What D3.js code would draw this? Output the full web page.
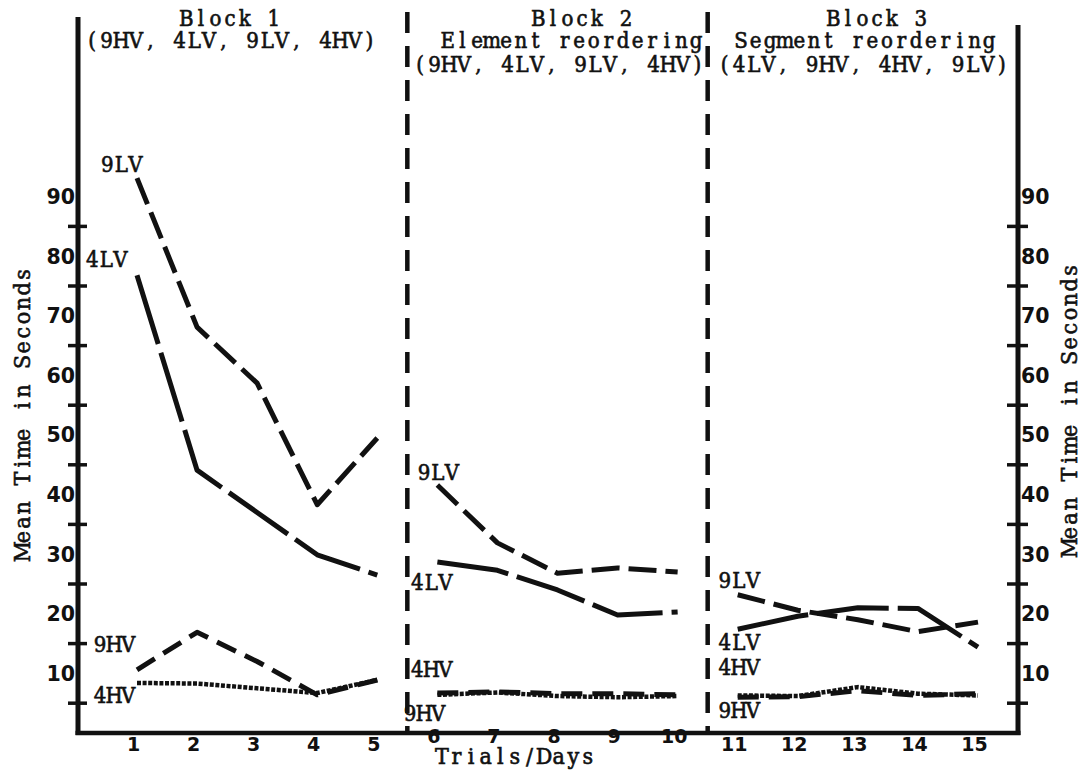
<!DOCTYPE html>
<html>
<head>
<meta charset="utf-8">
<script src="https://cdn.jsdelivr.net/npm/d3@7"></script>
<style>
  html, body { margin: 0; padding: 0; background: #fff; }
  svg { display: block; }
  .type { font-family: "DejaVu Serif Condensed", "DejaVu Serif", serif; font-stretch: condensed; fill: #111; stroke: #111; stroke-width: 0.6px; }
  .num { font-family: "DejaVu Sans", sans-serif; font-weight: bold; fill: #111; }
</style>
</head>
<body>
<svg id="chart" width="1081" height="781"></svg>
<script>
// Trials (days) and mean completion times in seconds, three blocks of five trials
const trials = [1, 2, 3, 4, 5, 6, 7, 8, 9, 10, 11, 12, 13, 14, 15];
const xTickLabels = ["1", "2", "3", "4", "5", "6", "7", "8", "9", "10", "11", "12", "13", "14", "15"];
const yTickLabels = [10, 20, 30, 40, 50, 60, 70, 80, 90];
const yMinorTicks = [5, 15, 25, 35, 45, 55, 65, 75, 85];

const values9LV = [93.1, 68.1, 58.7, 38.3, 49.5, 41.6, 31.9, 26.8, 27.7, 27.0, 23.2, 20.6, 19.0, 17.0, 18.6];
const values4LV = [76.8, 44.1, 37.0, 29.9, 26.5, 28.7, 27.3, 24.0, 19.8, 20.3, 17.4, 19.6, 21.0, 20.9, 14.4];
const values9HV = [10.6, 16.9, 12.0, 6.4, 8.9, 6.7, 6.9, 6.6, 6.6, 6.4, 6.0, 6.1, 7.1, 6.3, 6.6];
const values4HV = [8.4, 8.3, 7.5, 6.7, 8.9, 6.4, 6.8, 6.2, 6.0, 6.2, 6.3, 6.2, 7.7, 6.6, 6.3];

// Block boundaries (first and last trial of each block)
const blocks = [[1, 5], [6, 10], [11, 15]];

// Block headers: lines of text, centred on a trial position
const headerLines = [
  { text: "Block 1", trial: 2.55, row: 0 },
  { text: "(9HV, 4LV, 9LV, 4HV)", trial: 2.56, row: 1 },
  { text: "Block 2", trial: 8.41, row: 0 },
  { text: "Element reordering", trial: 8.24, row: 1 },
  { text: "(9HV, 4LV, 9LV, 4HV)", trial: 8.02, row: 2 },
  { text: "Block 3", trial: 13.32, row: 0 },
  { text: "Segment reordering", trial: 13.12, row: 1 },
  { text: "(4LV, 9HV, 4HV, 9LV)", trial: 13.09, row: 2 }
];

// Series name tags, placed in data units (trial, seconds) at their left edge
const seriesTags = [
  { text: "9LV", trial: 0.39, value: 94.1 },
  { text: "4LV", trial: 0.14, value: 78.2 },
  { text: "9HV", trial: 0.27, value: 13.6 },
  { text: "4HV", trial: 0.27, value: 5.0 },
  { text: "9LV", trial: 5.66, value: 42.4 },
  { text: "4LV", trial: 5.55, value: 24.0 },
  { text: "4HV", trial: 5.55, value: 9.4 },
  { text: "9HV", trial: 5.43, value: 2.0 },
  { text: "9LV", trial: 10.67, value: 24.3 },
  { text: "4LV", trial: 10.67, value: 13.9 },
  { text: "4HV", trial: 10.67, value: 9.7 },
  { text: "9HV", trial: 10.67, value: 2.5 }
];

const series = [
  { name: "9LV", values: values9LV, dash: "28,9", width: 5 },
  { name: "4LV", values: values4LV, dash: "72,9", width: 5 },
  { name: "9HV", values: values9HV, dash: "21,10", width: 5 },
  { name: "4HV", values: values4HV, dash: "4,1.6", width: 4.5 }
];

const svg = d3.select("#chart");
const ink = "#111";
const pitch = 14.6;   // typewriter character pitch

const x = d3.scaleLinear().domain([1, 15]).range([137, 978]);
const y = d3.scaleLinear().domain([0, 90]).range([733, 196.6]);

const axisLeftX = 78, axisRightX = 1018, axisBottomY = y(0);

// Typewriter text: every glyph centred in its own fixed-width cell.
// anchor "middle" centres the whole string on x0, "start" puts its left edge there.
function typeText(parent, str, x0, y0, size, anchor, step) {
  const p = step || pitch;
  const left = anchor === "middle" ? x0 - (str.length * p) / 2 : x0;
  const xs = Array.from(str, (c, i) => (left + (i + 0.5) * p).toFixed(2));
  return parent.append("text")
    .attr("class", "type").attr("font-size", size)
    .attr("text-anchor", "middle")
    .attr("x", xs.join(" ")).attr("y", y0)
    .text(str);
}

// Frame: left, right and bottom axes
svg.append("line").attr("x1", axisLeftX).attr("x2", axisLeftX).attr("y1", 17).attr("y2", axisBottomY + 2)
  .attr("stroke", ink).attr("stroke-width", 5);
svg.append("line").attr("x1", axisRightX).attr("x2", axisRightX).attr("y1", 25).attr("y2", axisBottomY + 2)
  .attr("stroke", ink).attr("stroke-width", 5);
svg.append("line").attr("x1", axisLeftX - 2.5).attr("x2", axisRightX + 2.5).attr("y1", axisBottomY).attr("y2", axisBottomY)
  .attr("stroke", ink).attr("stroke-width", 4.5);

// Cross ticks at the odd multiples of five on both vertical axes
[[axisLeftX, -10, 9], [axisRightX, -11, 10]].forEach(([ax, a, b]) => {
  svg.append("g").selectAll("line").data(yMinorTicks).join("line")
    .attr("x1", ax + a).attr("x2", ax + b)
    .attr("y1", d => y(d)).attr("y2", d => y(d))
    .attr("stroke", ink).attr("stroke-width", 3.5);
});

// Tick labels on the vertical axes
const leftAxis = d3.axisLeft(y).tickValues(yTickLabels).tickSize(0).tickPadding(0);
const gl = svg.append("g").attr("transform", `translate(${axisLeftX - 3},0)`).call(leftAxis);
const rightAxis = d3.axisRight(y).tickValues(yTickLabels).tickSize(0).tickPadding(0);
const gr = svg.append("g").attr("transform", `translate(${axisRightX + 3},0)`).call(rightAxis);
[gl, gr].forEach(g => {
  g.select(".domain").remove();
  g.attr("font-family", null).attr("font-size", null);
  g.selectAll("text").attr("class", "num").attr("font-size", 20.5).attr("dy", "0.34em").attr("fill", ink);
});

// Trial labels along the bottom; the middle block was typed a little higher
const bottomAxis = d3.axisBottom(x).tickValues(trials).tickFormat((d, i) => xTickLabels[i]).tickSize(0).tickPadding(0);
const gb = svg.append("g").attr("transform", `translate(-4,${axisBottomY})`).call(bottomAxis);
gb.select(".domain").remove();
gb.attr("font-family", null).attr("font-size", null);
gb.selectAll("text").attr("class", "num").attr("font-size", 19).attr("fill", ink)
  .attr("y", d => (d >= 6 && d <= 10) ? 10 : 18).attr("dy", 0);

// Dashed block separators
[5.5, 10.5].forEach(t => {
  svg.append("line").attr("x1", x(t)).attr("x2", x(t)).attr("y1", 12).attr("y2", axisBottomY)
    .attr("stroke", ink).attr("stroke-width", 4.5).attr("stroke-dasharray", "21,13");
});

// Series lines, one path per block
const line = d3.line().x(d => x(d.t)).y(d => y(d.v));
series.forEach(s => {
  blocks.forEach(([a, b]) => {
    const pts = trials.filter(t => t >= a && t <= b).map(t => ({ t, v: s.values[t - 1] }));
    svg.append("path").datum(pts).attr("d", line)
      .attr("fill", "none").attr("stroke", ink)
      .attr("stroke-width", s.width).attr("stroke-dasharray", s.dash)
      .attr("stroke-linejoin", "round");
  });
});

// Series tags
const tagLayer = svg.append("g");
seriesTags.forEach(d => typeText(tagLayer, d.text, x(d.trial), y(d.value), 22, "start", 14));

// Block headers
const rowBaselines = [26, 48, 72];
const headLayer = svg.append("g");
headerLines.forEach(d => typeText(headLayer, d.text, x(d.trial), rowBaselines[d.row], 22, "middle"));

// Axis titles
typeText(svg, "Trials/Days", x(7.29), 764, 23, "middle");
typeText(svg.append("g").attr("transform", "translate(30,413) rotate(-90)"), "Mean Time in Seconds", 0, 0, 23, "middle");
typeText(svg.append("g").attr("transform", "translate(1077,409) rotate(-90)"), "Mean Time in Seconds", 0, 0, 23, "middle");
</script>
</body>
</html>
